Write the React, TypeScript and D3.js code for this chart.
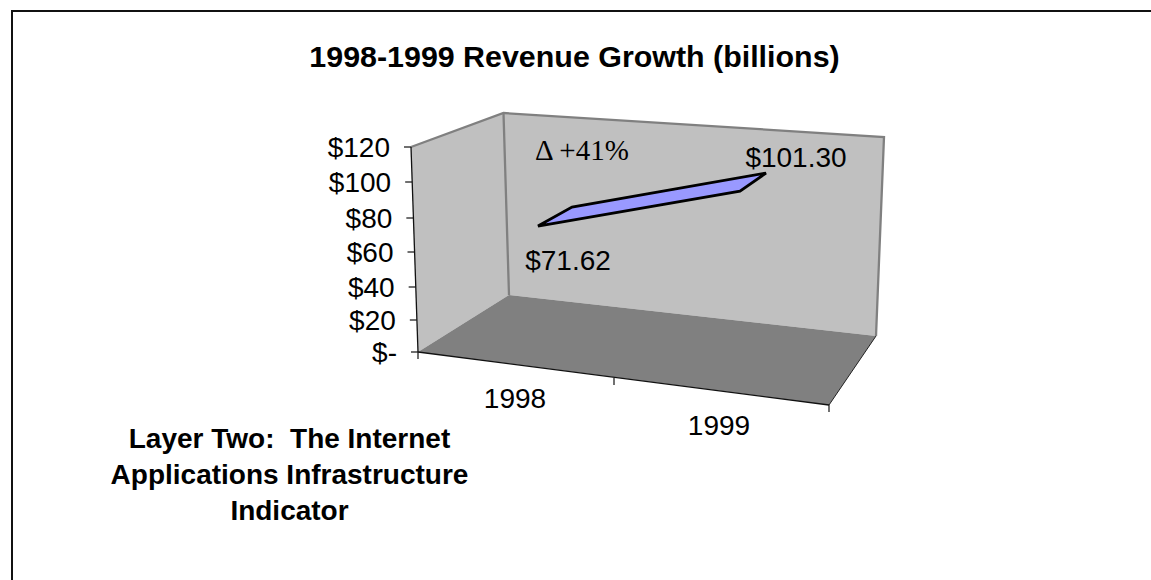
import React from "react";
import * as d3 from "d3";

const years = ["1998", "1999"];
const revenue = [71.62, 101.3];
const revenueLabels = ["$71.62", "$101.30"];
const yTicks = [0, 20, 40, 60, 80, 100, 120];
const yTickLabels = ["$-", "$20", "$40", "$60", "$80", "$100", "$120"];
const titleText = "1998-1999 Revenue Growth (billions)";
const captionLines = ["Layer Two:  The Internet", "Applications Infrastructure", "Indicator"];

const W = 1151;
const H = 580;
const SANS = "'Liberation Sans', Arial, sans-serif";

// Box corners of the 3-D plot: front/back, left/right.
const frontBottomLeft = [418, 352];
const frontTopLeft = [411, 147];
const backTopLeft = [503.5, 113];
const backBottomLeft = [509, 295];
const backTopRight = [884, 137];
const backBottomRight = [876, 336];
const frontBottomRight = [829, 405];

const poly = (pts: number[][]) => pts.map((p) => p.join(",")).join(" ");

// Value axis runs along the front-left edge; foreshortening spaces its ticks unevenly.
const axisStops = [352, 320, 287, 252, 218, 182, 147];
const axisY = d3.scaleLinear().domain(yTicks).range(axisStops);
const axisX = d3.scaleLinear().domain([0, 120]).range([frontBottomLeft[0], frontTopLeft[0]]);

// Category axis runs along the front floor edge, also foreshortened.
const floorX = d3.scaleLinear().domain([0, 1, 2]).range([418, 614, 829]);
const floorY = d3.scaleLinear().domain([0, 1, 2]).range([352, 378, 405]);

// Front edge of the ribbon, and how far each end recedes into the box.
const ribbonX = d3.scalePoint<string>().domain(years).range([538, 740]);
const ribbonY = d3.scaleLinear().domain([0, 120]).range([310.5, 169]);
const ribbonDepth = [
  [34, -19],
  [26, -18],
];

const ribbonFront = years.map((y, i) => [ribbonX(y) as number, ribbonY(revenue[i])]);
const ribbonBack = ribbonFront.map((p, i) => [p[0] + ribbonDepth[i][0], p[1] + ribbonDepth[i][1]]);
const ribbon = [...ribbonFront, ...[...ribbonBack].reverse()];

const yearLabelPos = [
  [515, 408],
  [719, 435],
];
const valueLabelPos = [
  [568, 270],
  [796, 167],
];

export default function App() {
  return (
    <svg
      width={W}
      height={H}
      viewBox={`0 0 ${W} ${H}`}
      style={{ position: "absolute", left: 0, top: 0, background: "#fff" }}
    >
      <path d={`M12,${H} V11 H${W}`} fill="none" stroke="#111" strokeWidth={2} />

      <text x={574.5} y={67} textAnchor="middle" fontFamily={SANS} fontWeight={700} fontSize={30.4}>
        {titleText}
      </text>

      {/* walls and floor */}
      <polygon
        points={poly([frontTopLeft, backTopLeft, backBottomLeft, frontBottomLeft])}
        fill="#c0c0c0"
      />
      <polygon
        points={poly([backTopLeft, backTopRight, backBottomRight, backBottomLeft])}
        fill="#c0c0c0"
      />
      <polygon
        points={poly([frontBottomLeft, backBottomLeft, backBottomRight, frontBottomRight])}
        fill="#808080"
      />
      <polyline
        points={poly([frontTopLeft, backTopLeft, backTopRight, backBottomRight])}
        fill="none"
        stroke="#808080"
        strokeWidth={2.3}
      />
      <line
        x1={backTopLeft[0]}
        y1={backTopLeft[1]}
        x2={backBottomLeft[0]}
        y2={backBottomLeft[1]}
        stroke="#808080"
        strokeWidth={2.3}
      />
      <line
        x1={frontBottomRight[0]}
        y1={frontBottomRight[1]}
        x2={backBottomRight[0]}
        y2={backBottomRight[1]}
        stroke="#222"
      />

      {/* value axis */}
      <line
        x1={frontTopLeft[0]}
        y1={frontTopLeft[1]}
        x2={frontBottomLeft[0]}
        y2={frontBottomLeft[1]}
        stroke="#111"
        strokeWidth={1.3}
      />
      {yTicks.map((t, i) => (
        <g key={t}>
          <line x1={axisX(t) - 7} x2={axisX(t)} y1={axisY(t)} y2={axisY(t)} stroke="#111" strokeWidth={1.2} />
          <text x={axisX(t) - 21} y={axisY(t) + 10} textAnchor="end" fontFamily={SANS} fontSize={28}>
            {yTickLabels[i]}
          </text>
        </g>
      ))}

      {/* category axis */}
      <line
        x1={frontBottomLeft[0]}
        y1={frontBottomLeft[1]}
        x2={frontBottomRight[0]}
        y2={frontBottomRight[1]}
        stroke="#111"
        strokeWidth={1.3}
      />
      {[0, 1, 2].map((t) => (
        <line
          key={t}
          x1={floorX(t)}
          x2={floorX(t)}
          y1={floorY(t)}
          y2={floorY(t) + 7}
          stroke="#111"
          strokeWidth={1.2}
        />
      ))}
      {years.map((y, i) => (
        <text
          key={y}
          x={yearLabelPos[i][0]}
          y={yearLabelPos[i][1]}
          textAnchor="middle"
          fontFamily={SANS}
          fontSize={28}
        >
          {y}
        </text>
      ))}

      {/* revenue ribbon */}
      <polygon points={poly(ribbon)} fill="#9999ff" stroke="#000" strokeWidth={2.8} strokeLinejoin="miter" />
      {revenueLabels.map((l, i) => (
        <text
          key={l}
          x={valueLabelPos[i][0]}
          y={valueLabelPos[i][1]}
          textAnchor="middle"
          fontFamily={SANS}
          fontSize={28}
        >
          {l}
        </text>
      ))}

      <text x={535} y={160} fontFamily="'Liberation Serif', serif" fontSize={29}>
        Δ +41%
      </text>

      {captionLines.map((l, i) => (
        <text
          key={i}
          x={289.5}
          y={448 + i * 36}
          textAnchor="middle"
          fontFamily={SANS}
          fontWeight={700}
          fontSize={28}
          xmlSpace="preserve"
        >
          {l}
        </text>
      ))}
    </svg>
  );
}
